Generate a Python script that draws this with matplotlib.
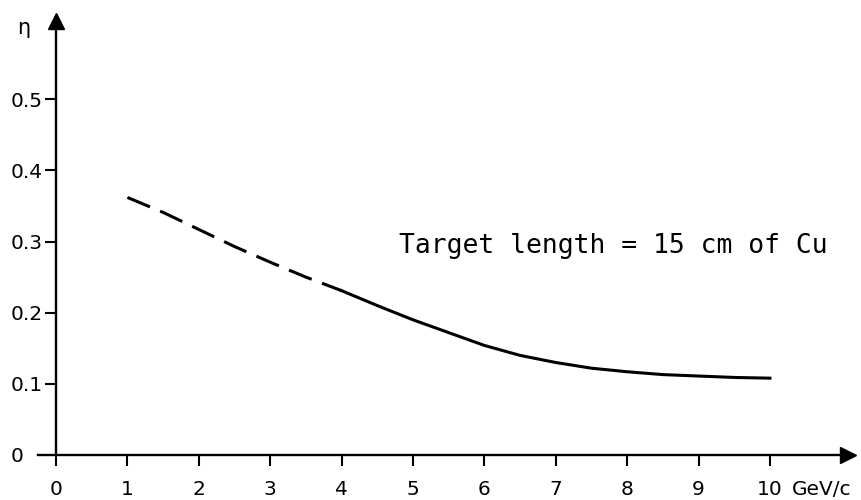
import matplotlib
matplotlib.use("Agg")
import matplotlib.pyplot as plt

# eta vs momentum
momentum = [1, 1.5, 2, 2.5, 3, 3.5, 4, 4.5, 5, 5.5, 6, 6.5, 7, 7.5, 8, 8.5, 9, 9.5, 10]
eta = [0.362, 0.341, 0.317, 0.293, 0.271, 0.250, 0.231, 0.210, 0.190, 0.172,
       0.154, 0.140, 0.130, 0.122, 0.117, 0.113, 0.111, 0.109, 0.108]
dash_end = 4  # curve is dashed below this momentum

x_ticks = list(range(0, 11))
x_labels = [str(v) for v in x_ticks]
y_ticks = [0, 0.1, 0.2, 0.3, 0.4, 0.5]
y_labels = ["0", "0.1", "0.2", "0.3", "0.4", "0.5"]

fig = plt.figure(figsize=(8.62, 5), dpi=100)
ax = fig.add_axes([0.0443, 0.09, 0.940, 0.868])
ax.set_xlim(-0.25, 11.1)
ax.set_ylim(0, 0.61)

lo = [(m, e) for m, e in zip(momentum, eta) if m <= dash_end]
hi = [(m, e) for m, e in zip(momentum, eta) if m >= dash_end]
ax.plot([p[0] for p in lo], [p[1] for p in lo], color="black", lw=2.2,
        dashes=(8, 3.6), solid_capstyle="butt")
ax.plot([p[0] for p in hi], [p[1] for p in hi], color="black", lw=2.2)

# axes drawn as arrows
for side in ["top", "right"]:
    ax.spines[side].set_visible(False)
ax.spines["left"].set_position(("data", 0))
ax.spines["left"].set_linewidth(1.7)
ax.spines["bottom"].set_linewidth(1.7)
ax.plot(1, 0, ">", color="black", ms=11, transform=ax.get_yaxis_transform(), clip_on=False)
ax.plot(0, 1, "^", color="black", ms=11, transform=ax.get_xaxis_transform(), clip_on=False)

ax.set_xticks(x_ticks, x_labels, fontsize=14.5, family="DejaVu Sans")
ax.set_yticks(y_ticks, y_labels, fontsize=14.5, family="DejaVu Sans")
ax.tick_params(axis="x", direction="out", length=8, width=1.5, pad=10)
ax.tick_params(axis="y", direction="out", length=8, width=1.5, pad=25)
for lbl in ax.get_yticklabels():
    lbl.set_horizontalalignment("left")
ax.yaxis.get_major_ticks()[0].tick1line.set_visible(False)

ax.annotate("GeV/c", xy=(10, 0), xytext=(16, -18), textcoords="offset points",
            ha="left", va="top", fontsize=14.5, family="DejaVu Sans")
fig.text(24 / 862, 1 - 28 / 500, "η", ha="center", va="center", fontsize=15)

ax.text(4.8, 0.284, "Target length = 15 cm of Cu", fontsize=19,
        family="DejaVu Sans Mono", va="baseline")

fig.savefig("out.png", dpi=100)
